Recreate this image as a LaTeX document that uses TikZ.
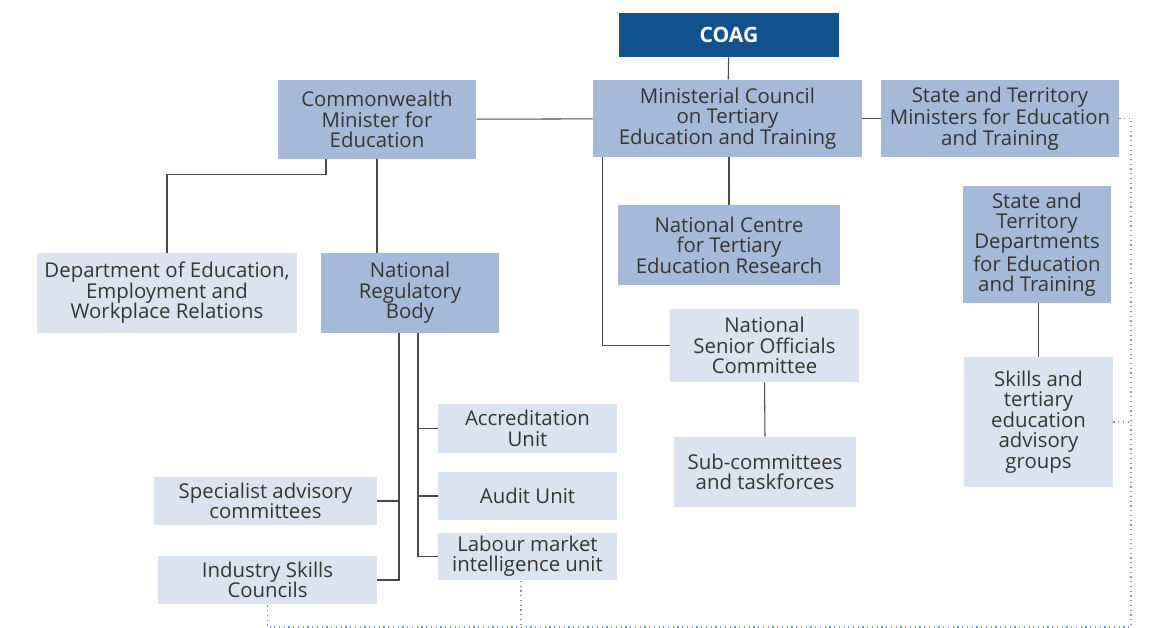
\documentclass[tikz,border=0pt]{standalone}
\usepackage{fontspec}
\setmainfont{Open Sans}
\usepackage{tikz}
\usepackage{xcolor}
\usetikzlibrary{positioning,calc}
\definecolor{coagblue}{HTML}{12538F}
\definecolor{midblue}{HTML}{A6B9D9}
\definecolor{paleblue}{HTML}{DCE3F0}
\definecolor{txtgray}{HTML}{353535}
\definecolor{linegray}{HTML}{4A4A4A}
\definecolor{dotblue}{HTML}{7F97BF}
\tikzset{
  topbox/.style={fill=coagblue,text=white,inner sep=0pt,
                 align=center,font=\fontsize{12}{11.6}\selectfont\bfseries},
  unitbox/.style={fill=midblue,text=txtgray,inner sep=0pt,
                  align=center,font=\fontsize{11.6}{11.6}\selectfont},
  subbox/.style={fill=paleblue,text=txtgray,inner sep=0pt,
                 align=center,font=\fontsize{11.6}{11.6}\selectfont},
  orgline/.style={draw=linegray,line width=0.6pt},
  dotline/.style={draw=dotblue,line width=0.7pt,dotted}
}

\begin{document}
\begin{tikzpicture}[x=0.02cm,y=-0.02cm]
  \useasboundingbox (0,0) rectangle (1156,628);
  % top row
  \node[topbox,minimum width=4.4cm,minimum height=0.88cm] (coag) at (729,35) {COAG};
  \node[unitbox,minimum width=3.96cm,minimum height=1.58cm] (cmin) at (377,119.5) {Commonwealth\\Minister for\\Education};
  \node[unitbox,minimum width=5.38cm,minimum height=1.54cm] (mcte) at (727.5,118.5) {Ministerial Council\\on Tertiary\\Education and Training};
  \node[unitbox,minimum width=4.76cm,minimum height=1.54cm] (stmin) at (1000,118.5) {State and Territory\\Ministers for Education\\and Training};
  % second level
  \node[unitbox,minimum width=4.44cm,minimum height=1.6cm] (ncter) at (729,245) {National Centre\\for Tertiary\\Education Research};
  \node[unitbox,minimum width=2.96cm,minimum height=2.34cm] (stdep) at (1037,244.5) {State and\\Territory\\Departments\\for Education\\and Training};
  \node[subbox,minimum width=5.2cm,minimum height=1.6cm] (deewr) at (167,293) {Department of Education,\\Employment and\\Workplace Relations};
  \node[unitbox,minimum width=3.56cm,minimum height=1.6cm] (nrb) at (410,293) {National\\Regulatory\\Body};
  \node[subbox,minimum width=3.78cm,minimum height=1.46cm] (nsoc) at (764.5,345.5) {National\\Senior Officials\\Committee};
  \node[subbox,minimum width=2.98cm,minimum height=2.6cm] (skills) at (1038.5,422) {Skills and\\tertiary\\education\\advisory\\groups};
  % regulator units
  \node[subbox,minimum width=3.58cm,minimum height=0.98cm] (accr) at (527.5,428.5) {Accreditation\\Unit};
  \node[subbox,minimum width=3.58cm,minimum height=0.96cm] (audit) at (527.5,496) {Audit Unit};
  \node[subbox,minimum width=3.58cm,minimum height=0.96cm] (lmiu) at (527.5,556.5) {Labour market\\intelligence unit};
  \node[subbox,minimum width=4.46cm,minimum height=0.96cm] (spec) at (265.5,501) {Specialist advisory\\committees};
  \node[subbox,minimum width=4.38cm,minimum height=0.96cm] (isc) at (267.5,580) {Industry Skills\\Councils};
  \node[subbox,minimum width=3.64cm,minimum height=1.4cm] (subc) at (765,472) {Sub-committees\\and taskforces};

  % solid reporting lines
  \draw[orgline] (coag) -- (mcte);
  \draw[orgline] (cmin) -- (mcte);
  \draw[orgline] (mcte) -- (stmin);
  \draw[orgline] (mcte.south -| coag.south) -- (ncter.north -| coag.south);
  \draw[orgline] ([xshift=0.2cm]mcte.south west) |- (nsoc.west);
  \draw[orgline] (nsoc.south) -- (subc.north);
  \draw[orgline] (stdep.south -| skills.north) -- (skills.north);
  \draw[orgline] ([xshift=-1.02cm]cmin.south) -- ++(0,15) -| (deewr.north);
  \draw[orgline] (cmin.south) -- (cmin.south |- nrb.north);
  \coordinate (nrbL) at ([xshift=-0.22cm]nrb.south);
  \coordinate (nrbR) at ([xshift=0.16cm]nrb.south);
  \draw[orgline] (nrbL) |- (isc.east);
  \draw[orgline] (spec.east) -- (spec.east -| nrbL);
  \draw[orgline] (nrbR) |- (lmiu.west);
  \draw[orgline] (accr.west) -- (accr.west -| nrbR);
  \draw[orgline] (audit.west) -- (audit.west -| nrbR);

  % dotted links
  \coordinate (rail) at (1131,627);
  \draw[dotline] (stmin.east) -| (rail) -| (isc.south);
  \draw[dotline] (skills.east) -- (skills.east -| rail);
  \draw[dotline] ([xshift=-0.13cm]lmiu.south) -- ([xshift=-0.13cm]lmiu.south |- rail);
\end{tikzpicture}
\end{document}
